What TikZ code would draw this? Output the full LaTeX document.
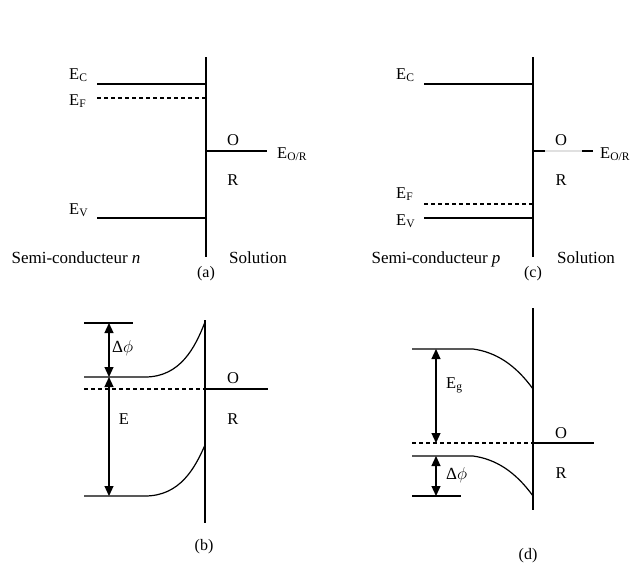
\documentclass[tikz,border=0pt]{standalone}
\usepackage{fontspec}
\setmainfont{Liberation Serif}
\usetikzlibrary{arrows.meta}
\tikzset{
  band/.style={line width=1.2pt},
  fermi/.style={line width=1.2pt, dash pattern=on 4pt off 3pt},
  lbl/.style={inner sep=0pt, anchor=base, font=\fontsize{16.5}{19}\selectfont},
  lblw/.style={inner sep=0pt, anchor=base west, font=\fontsize{16.5}{19}\selectfont},
  big/.style={inner sep=0pt, anchor=base, font=\fontsize{17}{20}\selectfont},
  panellabel/.style={inner sep=0pt, anchor=base, font=\fontsize{16}{19}\selectfont},
  dim/.style={line width=1.2pt, {Triangle[length=10pt,width=9pt]}-{Triangle[length=10pt,width=9pt]}},
}
\begin{document}
\begin{tikzpicture}[x=1pt,y=-1pt]
\useasboundingbox (0,0) rectangle (632,576);
% ---------- panel (a) ----------
\coordinate (aT) at (206,57); \coordinate (aB) at (206,257);
\draw[band] (aT) -- (aB);
\coordinate (aC0) at (97,84); \coordinate (aC1) at (206,84);
\draw[band] (aC0) -- (aC1);
\coordinate (aF0) at (97,98); \coordinate (aF1) at (205,98);
\draw[fermi] (aF0) -- (aF1);
\coordinate (aV0) at (97,218); \coordinate (aV1) at (206,218);
\draw[band] (aV0) -- (aV1);
\coordinate (aO0) at (206,151); \coordinate (aO1) at (267,151);
\draw[band] (aO0) -- (aO1);
\node[lblw] (aEC) at (69,79) {E\textsubscript{C}};
\node[lblw] (aEF) at (69,105) {E\textsubscript{F}};
\node[lblw] (aEV) at (69,214) {E\textsubscript{V}};
\node[lbl] (aO) at (233,145) {O};
\node[lbl] (aR) at (233,185) {R};
\node[lblw] (aEOR) at (277,158) {E\textsubscript{O/R}};
\node[big] (aSC) at (76,263) {Semi-conducteur \textit{n}};
\node[big] (aSol) at (258,263) {Solution};
\node[panellabel] (alab) at (206,277) {(a)};
% ---------- panel (c) ----------
\coordinate (cT) at (533,57); \coordinate (cB) at (533,257);
\draw[band] (cT) -- (cB);
\coordinate (cC0) at (424,84); \coordinate (cC1) at (533,84);
\draw[band] (cC0) -- (cC1);
\coordinate (cF0) at (424,204); \coordinate (cF1) at (532,204);
\draw[fermi] (cF0) -- (cF1);
\coordinate (cV0) at (424,218); \coordinate (cV1) at (533,218);
\draw[band] (cV0) -- (cV1);
\coordinate (cO0) at (533,151); \coordinate (cOa) at (545,151);
\coordinate (cOb) at (582,151); \coordinate (cO1) at (593,151);
\draw[band] (cO0) -- (cOa);
\draw[band, black!12] (cOa) -- (cOb);
\draw[band] (cOb) -- (cO1);
\node[lblw] (cEC) at (396,79) {E\textsubscript{C}};
\node[lblw] (cEF) at (396,198) {E\textsubscript{F}};
\node[lblw] (cEV) at (396,225) {E\textsubscript{V}};
\node[lbl] (cO) at (561,145) {O};
\node[lbl] (cR) at (561,185) {R};
\node[lblw] (cEOR) at (600,158) {E\textsubscript{O/R}};
\node[big] (cSC) at (436,263) {Semi-conducteur \textit{p}};
\node[big] (cSol) at (586,263) {Solution};
\node[panellabel] (clab) at (533,277) {(c)};
% ---------- panel (b) ----------
\coordinate (bT) at (205,320); \coordinate (bB) at (205,523);
\draw[band] (bT) -- (bB);
\coordinate (bTop0) at (84,323); \coordinate (bTop1) at (133,323);
\draw[band] (bTop0) -- (bTop1);
\coordinate (bC0) at (84,377); \coordinate (bC1) at (145,377); \coordinate (bC2) at (205,322);
\draw[band] (bC0) -- (bC1) .. controls (180,377) and (195,348) .. (bC2);
\coordinate (bV0) at (84,496); \coordinate (bV1) at (145,496); \coordinate (bV2) at (205,445);
\draw[band] (bV0) -- (bV1) .. controls (180,496) and (195,468) .. (bV2);
\coordinate (bF0) at (84,389); \coordinate (bF1) at (205,389); \coordinate (bF2) at (268,389);
\draw[fermi] (bF0) -- (bF1);
\draw[band] (bF1) -- (bF2);
\coordinate (bA0) at (109,323); \coordinate (bA1) at (109,377); \coordinate (bA2) at (109,496);
\draw[dim] (bA0) -- (bA1);
\draw[dim] (bA1) -- (bA2);
\node[inner sep=0pt, anchor=base west, font=\fontsize{17}{19}\selectfont] (bdphi) at (112,352) {Δ$\phi$};
\node[lbl] (bE) at (124,424) {E};
\node[lbl] (bO) at (233,383) {O};
\node[lbl] (bR) at (233,424) {R};
\node[panellabel] (blab) at (204,550) {(b)};
% ---------- panel (d) ----------
\coordinate (dT) at (533,308); \coordinate (dB) at (533,510);
\draw[band] (dT) -- (dB);
\coordinate (dC0) at (412,349); \coordinate (dC1) at (473,349); \coordinate (dC2) at (533,389);
\draw[band] (dC0) -- (dC1) .. controls (495,352) and (515,364) .. (dC2);
\coordinate (dV0) at (412,456); \coordinate (dV1) at (473,456); \coordinate (dV2) at (533,496);
\draw[band] (dV0) -- (dV1) .. controls (495,459) and (515,471) .. (dV2);
\coordinate (dBot0) at (412,496); \coordinate (dBot1) at (461,496);
\draw[band] (dBot0) -- (dBot1);
\coordinate (dF0) at (412,443); \coordinate (dF1) at (533,443); \coordinate (dF2) at (594,443);
\draw[fermi] (dF0) -- (dF1);
\draw[band] (dF1) -- (dF2);
\coordinate (dA0) at (436,349); \coordinate (dA1) at (436,443);
\coordinate (dA2) at (436,456); \coordinate (dA3) at (436,496);
\draw[dim] (dA0) -- (dA1);
\draw[dim] (dA2) -- (dA3);
\node[lblw] (dEg) at (446,388) {E\textsubscript{g}};
\node[inner sep=0pt, anchor=base west, font=\fontsize{17}{19}\selectfont] (ddphi) at (446,479) {Δ$\phi$};
\node[lbl] (dO) at (561,438) {O};
\node[lbl] (dR) at (561,478) {R};
\node[panellabel] (dlab) at (528,559) {(d)};
\end{tikzpicture}
\end{document}
